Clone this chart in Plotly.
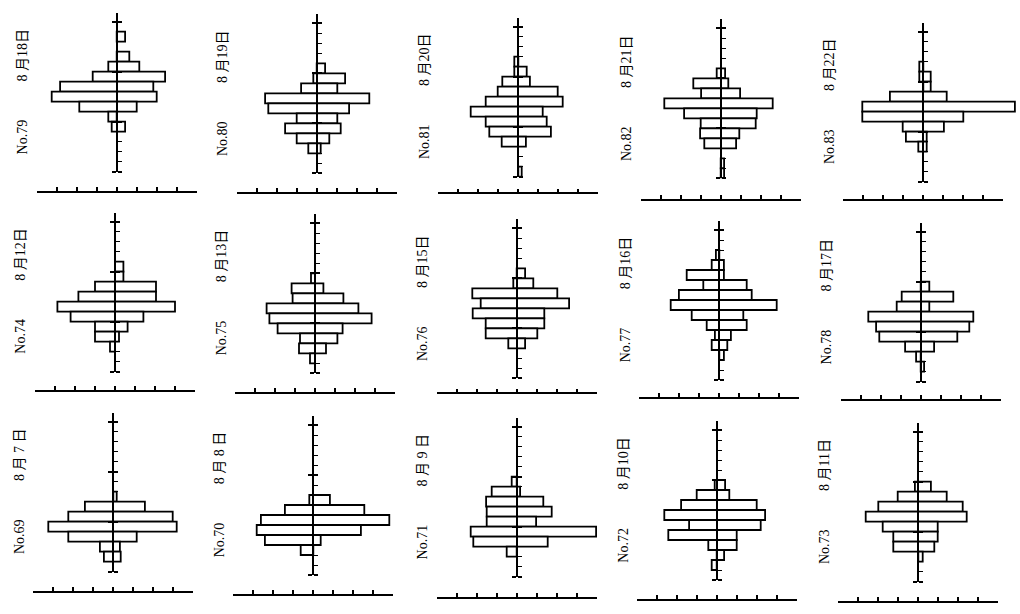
import plotly.graph_objects as go

W, H = 1020, 614

# ---------------- data ----------------
panel_no = ["No.79", "No.80", "No.81", "No.82", "No.83",
            "No.74", "No.75", "No.76", "No.77", "No.78",
            "No.69", "No.70", "No.71", "No.72", "No.73"]
panel_date = ["8 月18日", "8 月19日", "8 月20日", "8 月21日", "8 月22日",
              "8 月12日", "8 月13日", "8 月15日", "8 月16日", "8 月17日",
              "8 月 7 日", "8 月 8 日", "8 月 9 日", "8 月10日", "8 月11日"]

# depth-row index (0 = first major tick at top) / left width / right width
rows_79 = [1, 3, 4, 5, 6, 7, 8, 9, 10]
left_79 = [0, 0, 0.42, 1.2, 2.83, 3.25, 1.87, 0.42, 0.25]
right_79 = [0.42, 0.63, 1.13, 2.42, 1.83, 2.0, 1.0, 0, 0.42]

rows_80 = [4, 5, 6, 7, 8, 9, 10, 11, 12]
left_80 = [0, 0.17, 0.78, 2.58, 2.42, 1.0, 1.58, 1.0, 0.42]
right_80 = [0.42, 1.42, 1.03, 2.63, 1.62, 1.03, 1.2, 0.63, 0.2]

rows_81 = [3, 4, 5, 6, 7, 8, 9, 10, 11, 14]
left_81 = [0.2, 0.2, 0.8, 1.03, 1.63, 2.38, 1.63, 1.45, 0.83, 0]
right_81 = [0, 0.42, 0.58, 1.97, 2.22, 1.22, 1.42, 1.63, 0.38, 0.17]

rows_82 = [4, 5, 6, 7, 8, 9, 10, 11, 13, 14]
left_82 = [0.2, 1.37, 0.98, 2.82, 1.83, 1.0, 1.03, 0.82, 0, 0]
right_82 = [0.22, 0.38, 0.97, 2.6, 1.8, 1.75, 0.93, 0.77, 0.17, 0.17]

rows_83 = [3, 4, 5, 6, 7, 8, 9, 10, 11]
left_83 = [0.2, 0.2, 0, 1.67, 3.05, 3.05, 1.03, 0.87, 0.25]
right_83 = [0, 0.37, 0.37, 1.17, 4.58, 2.0, 1.03, 0.17, 0.17]

rows_74 = [4, 5, 6, 7, 8, 9, 10, 11, 12]
left_74 = [0, 0, 1.0, 1.83, 2.88, 2.22, 1.0, 1.0, 0.25]
right_74 = [0.42, 0.42, 2.05, 2.05, 3.0, 1.42, 0.63, 0.2, 0]

rows_75 = [5, 6, 7, 8, 9, 10, 11, 12, 13]
left_75 = [0.2, 1.17, 1.12, 2.42, 2.28, 1.87, 0.75, 0.8, 0.25]
right_75 = [0, 0.42, 1.42, 2.17, 2.83, 1.38, 1.12, 0.55, 0]

rows_76 = [4, 5, 6, 7, 8, 9, 10, 11]
left_76 = [0, 0.17, 2.22, 1.8, 2.2, 1.55, 1.55, 0.42]
right_76 = [0.42, 0.83, 2.03, 2.62, 1.38, 1.38, 1.03, 0.42]

rows_77 = [2, 3, 4, 5, 6, 7, 8, 9, 10, 11, 12]
left_77 = [0.17, 0.38, 1.63, 0.8, 2.02, 2.43, 1.38, 0.63, 0.22, 0.38, 0]
right_77 = [0, 0.23, 0.23, 1.37, 1.62, 2.87, 1.2, 1.37, 0.58, 0.4, 0.23]

rows_78 = [5, 6, 7, 8, 9, 10, 11, 12, 13]
left_78 = [0, 0.95, 1.2, 2.62, 2.23, 2.07, 0.78, 0.23, 0]
right_78 = [0.43, 1.63, 0.43, 2.63, 2.43, 1.83, 0.67, 0, 0.17]

rows_69 = [7, 8, 9, 10, 11, 12, 13]
left_69 = [0, 1.42, 2.25, 3.25, 2.25, 0.67, 0.47]
right_69 = [0.17, 1.58, 2.97, 3.17, 1.17, 0.33, 0.37]

rows_70 = [7, 8, 9, 10, 11, 12]
left_70 = [0.2, 1.42, 2.62, 2.83, 2.42, 0.63]
right_70 = [0.83, 2.55, 3.8, 2.38, 0.37, 0]

rows_71 = [5, 6, 7, 8, 9, 10, 11, 12]
left_71 = [0.25, 1.25, 1.53, 1.5, 1.5, 2.3, 2.17, 0.5]
right_71 = [0, 0.17, 1.33, 1.75, 0.97, 3.97, 1.55, 0]

rows_72 = [5, 6, 7, 8, 9, 10, 11, 12, 13]
left_72 = [0.1, 1.0, 1.78, 2.62, 1.38, 2.42, 0.42, 0, 0.25]
right_72 = [0.42, 0.63, 2.0, 2.42, 2.2, 1.0, 1.0, 0.37, 0]

rows_73 = [5, 6, 7, 8, 9, 10, 11, 12]
left_73 = [0.17, 1.03, 2.0, 2.63, 1.78, 1.25, 1.25, 0]
right_73 = [0.63, 1.42, 2.22, 2.42, 0.97, 0.97, 0.8, 0.22]

panel_rows = [rows_79, rows_80, rows_81, rows_82, rows_83,
              rows_74, rows_75, rows_76, rows_77, rows_78,
              rows_69, rows_70, rows_71, rows_72, rows_73]
panel_left = [left_79, left_80, left_81, left_82, left_83,
              left_74, left_75, left_76, left_77, left_78,
              left_69, left_70, left_71, left_72, left_73]
panel_right = [right_79, right_80, right_81, right_82, right_83,
               right_74, right_75, right_76, right_77, right_78,
               right_69, right_70, right_71, right_72, right_73]

# ---------------- layout geometry (pixels) ----------------
panel_cx = [116.7, 316.7, 518.3, 720.7, 923.3,
            115.0, 315.0, 516.7, 719.3, 920.7,
            113.3, 313.3, 516.7, 716.7, 918.3]
panel_bottom = [171.7, 173.3, 176.7, 178.3, 181.7,
                371.7, 373.3, 378.3, 380.0, 381.7,
                571.7, 575.0, 576.7, 580.0, 581.7]
panel_scale_y = [192.0, 192.7, 193.3, 199.5, 200.0,
                 390.7, 392.7, 393.3, 398.0, 400.0,
                 591.7, 595.0, 598.0, 600.0, 601.7]

PX_X = 20.0   # pixels per width unit
PX_Y = 10.0   # pixels per depth row
HALF = 4.8    # half-width of the bar axes (units)
Y_TOP = -0.9
Y_BOT = 15.0

FONT = "Liberation Serif, Noto Sans CJK JP, serif"

fig = go.Figure()
layout = {}
annotations = []


def ax_id(letter, n):
    return letter if n == 1 else f"{letter}{n}"


def ax_key(letter, n):
    return f"{letter}axis" if n == 1 else f"{letter}axis{n}"


for i in range(15):
    n = i + 1
    cx, by, sy = panel_cx[i], panel_bottom[i], panel_scale_y[i]
    rows, L, R = panel_rows[i], panel_left[i], panel_right[i]
    xa, ya = ax_id("x", n), ax_id("y", n)

    fig.add_trace(go.Bar(
        orientation="h",
        y=[r + 0.5 for r in rows],
        x=[l + r for l, r in zip(L, R)],
        base=[-l for l in L],
        width=1,
        marker=dict(color="white", line=dict(color="black", width=1.8)),
        xaxis=xa, yaxis=ya, showlegend=False, hoverinfo="skip",
    ))

    top_px = by - (Y_BOT - Y_TOP) * PX_Y
    layout[ax_key("x", n)] = dict(
        domain=[max(0, (cx - HALF * PX_X) / W), min(1, (cx + HALF * PX_X) / W)],
        range=[-HALF, HALF], visible=False, anchor=ya, fixedrange=True)
    layout[ax_key("y", n)] = dict(
        domain=[1 - by / H, 1 - top_px / H],
        range=[Y_BOT, Y_TOP], anchor="free", position=cx / W,
        showline=True, linecolor="black", linewidth=2,
        showgrid=False, zeroline=False, showticklabels=False,
        tickmode="linear", tick0=0, dtick=5,
        ticks="outside", ticklen=4, tickwidth=1.6, tickcolor="black",
        minor=dict(tickmode="linear", tick0=0, dtick=1, ticks="inside",
                   ticklen=4, tickwidth=1.4, tickcolor="black", showgrid=False),
        fixedrange=True)

    # overlay axis: right half of the major cross ticks
    n2 = n + 15
    layout[ax_key("y", n2)] = dict(
        overlaying=ya, range=[Y_BOT, Y_TOP], anchor="free", position=cx / W,
        side="right", showline=False, showgrid=False, zeroline=False,
        showticklabels=False, tickmode="linear", tick0=0, dtick=5,
        ticks="outside", ticklen=4, tickwidth=1.6, tickcolor="black",
        fixedrange=True)
    fig.add_trace(go.Scatter(x=[0], y=[0], mode="markers",
                             marker=dict(opacity=0), xaxis=xa,
                             yaxis=ax_id("y", n2), showlegend=False,
                             hoverinfo="skip"))

    # scale bar axis under each panel
    n3 = n + 30
    layout[ax_key("x", n3)] = dict(
        domain=[(cx - 4 * PX_X) / W, (cx + 4 * PX_X) / W],
        range=[-4, 4], anchor="free", position=1 - sy / H,
        showline=True, linecolor="black", linewidth=1.6,
        showgrid=False, zeroline=False, showticklabels=False,
        tickmode="linear", tick0=-4, dtick=1,
        ticks="inside", ticklen=4, tickwidth=1.6, tickcolor="black",
        fixedrange=True)
    fig.add_trace(go.Scatter(x=[0], y=[0], mode="markers",
                             marker=dict(opacity=0), xaxis=ax_id("x", n3),
                             yaxis=ya, showlegend=False, hoverinfo="skip"))

    annotations.append(dict(
        text=panel_no[i], x=(cx - 94) / W, y=1 - (by - 35) / H,
        xref="paper", yref="paper", textangle=-90, showarrow=False,
        xanchor="center", yanchor="middle",
        font=dict(size=14, family=FONT, color="black")))
    annotations.append(dict(
        text=panel_date[i], x=(cx - 94) / W, y=1 - (by - 117) / H,
        xref="paper", yref="paper", textangle=-90, showarrow=False,
        xanchor="center", yanchor="middle",
        font=dict(size=14, family=FONT, color="black")))

fig.update_layout(
    width=W, height=H,
    margin=dict(l=0, r=0, t=0, b=0),
    paper_bgcolor="white", plot_bgcolor="rgba(0,0,0,0)",
    showlegend=False, barmode="overlay",
    annotations=annotations,
    **layout,
)

fig.write_html("out.html",
               config={"displayModeBar": False},
               post_script="document.body.style.margin='0';"
                           "document.body.style.overflow='hidden';")
